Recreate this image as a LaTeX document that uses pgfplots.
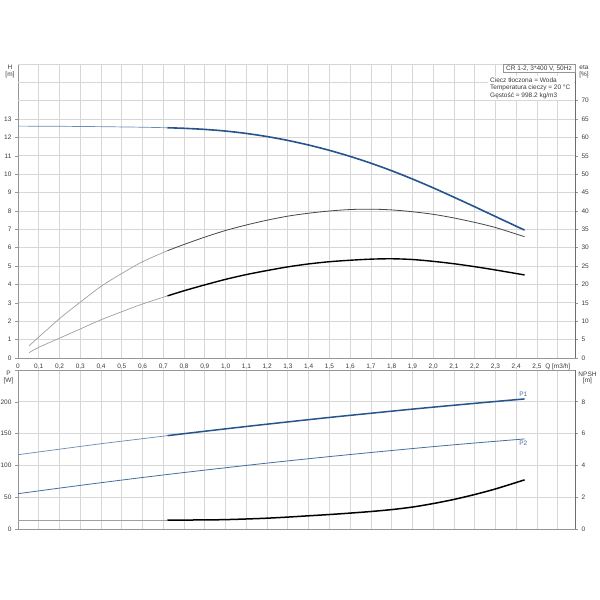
\documentclass[border=0pt]{standalone}
\usepackage{fontspec}
\setmainfont{Liberation Sans}
\usepackage{pgfplots}
\pgfplotsset{compat=1.18}
\definecolor{txt}{RGB}{60,60,60}
\definecolor{axl}{RGB}{150,150,150}
\definecolor{axr}{RGB}{110,110,110}
\definecolor{grd}{RGB}{215,215,215}
\definecolor{bthick}{RGB}{38,84,140}
\definecolor{bthin}{RGB}{105,140,180}
\definecolor{bmid}{RGB}{70,110,160}
\definecolor{gthin}{RGB}{160,160,160}
\definecolor{gdark}{RGB}{70,70,70}
\newcommand{\sm}{\fontsize{6.5}{7.5}\selectfont}
\pgfplotsset{
  base/.style={
    scale only axis, width=557pt, anchor=south west,
    xmin=0, xmax=2.683,
    axis line style={axl, line width=0.8pt},
    tick label style={font=\sm, text=txt},
    /pgf/number format/assume math mode=true,
    major tick length=3pt, tick align=outside,
    ytick style={axl, line width=0.6pt},
    xtick style={draw=none},
  },
  xg/.style={
    xtick={0,0.1,0.2,0.3,0.4,0.5,0.6,0.7,0.8,0.9,1.0,1.1,1.2,1.3,1.4,1.5,1.6,1.7,1.8,1.9,2.0,2.1,2.2,2.3,2.4,2.5,2.6},
    xmajorgrids, ymajorgrids,
    grid style={grd, line width=0.8pt},
  },
  rax/.style={
    base, axis x line=none, axis y line*=right,
    axis line style={axr, line width=0.8pt},
  },
}
\begin{document}
\begin{tikzpicture}[x=1pt,y=1pt]
\useasboundingbox (0,0) rectangle (600,600);
\fill[white] (0,0) rectangle (600,600);
% ---------------- top panel: H ----------------
\begin{axis}[base, xg, at={(18pt,242pt)}, height=294pt,
  ymin=0, ymax=16, ytick={0,1,...,13}, ytick pos=left,
  extra y ticks={14,15,16}, extra y tick labels={},
  extra y tick style={ymajorgrids, major tick length=0pt},
  xticklabels={0,{0,1},{0,2},{0,3},{0,4},{0,5},{0,6},{0,7},{0,8},{0,9},{1,0},{1,1},{1,2},{1,3},{1,4},{1,5},{1,6},{1,7},{1,8},{1,9},{2,0},{2,1},{2,2},{2,3},{2,4},{2,5},{Q [m3/h]}},
  xticklabel style={yshift=1pt},
]
\addplot[bthin, line width=0.7pt] coordinates {
 (0,12.62) (0.2,12.61) (0.4,12.59) (0.6,12.56) (0.72,12.53)};
\addplot[bthick, line width=1.6pt, smooth] coordinates {
 (0.72,12.53) (0.8,12.50) (0.9,12.44) (1.0,12.35) (1.1,12.22) (1.2,12.05)
 (1.3,11.84) (1.4,11.59) (1.5,11.30) (1.6,10.97) (1.7,10.60) (1.8,10.19)
 (1.9,9.74) (2.0,9.26) (2.1,8.75) (2.2,8.23) (2.3,7.70) (2.44,6.96)};
\end{axis}
% ---------------- top panel: eta ----------------
\begin{axis}[rax, at={(18pt,242pt)}, height=294pt,
  ymin=0, ymax=80, ytick={0,5,...,70}]
\addplot[gthin, line width=0.7pt, smooth] coordinates {
 (0.053,3.3) (0.1,5.7) (0.2,10.7) (0.3,15.2) (0.4,19.5) (0.5,23.0) (0.6,26.2) (0.72,29.2)};
\addplot[gdark, line width=0.8pt, smooth] coordinates {
 (0.72,29.2) (0.8,30.9) (0.9,32.9) (1.0,34.7) (1.1,36.2) (1.2,37.5) (1.3,38.6)
 (1.4,39.4) (1.5,40.0) (1.6,40.4) (1.7,40.5) (1.8,40.3) (1.9,39.8) (2.0,39.1)
 (2.1,38.1) (2.2,36.9) (2.3,35.5) (2.44,33.0)};
\addplot[gthin, line width=0.7pt, smooth] coordinates {
 (0.053,1.45) (0.1,2.9) (0.2,5.4) (0.3,7.9) (0.4,10.4) (0.5,12.6) (0.6,14.7) (0.72,16.9)};
\addplot[black, line width=1.4pt, smooth] coordinates {
 (0.72,16.9) (0.8,18.3) (0.9,19.9) (1.0,21.4) (1.1,22.7) (1.2,23.8) (1.3,24.8)
 (1.4,25.6) (1.5,26.2) (1.6,26.6) (1.7,26.9) (1.8,27.0) (1.9,26.8) (2.0,26.3)
 (2.1,25.65) (2.2,24.85) (2.3,23.95) (2.44,22.6)};
\end{axis}
% ---------------- bottom panel: P ----------------
\begin{axis}[base, xg, at={(18pt,71pt)}, height=159pt,
  ymin=0, ymax=250, ytick={0,50,...,250}, yticklabels={0,50,100,150,200,{}},
  ytick pos=left, xticklabels={},
]
\addplot[bthin, line width=0.7pt] coordinates {
 (0,116.8) (0.2,125.5) (0.4,134.1) (0.6,142.0) (0.72,146.8)};
\addplot[bthick, line width=1.5pt, smooth] coordinates {
 (0.72,146.8) (0.9,153.7) (1.1,161.2) (1.3,168.4) (1.5,175.4) (1.7,182.0)
 (1.9,188.5) (2.1,194.6) (2.3,200.5) (2.44,204.5)};
\addplot[bmid, line width=0.8pt, smooth] coordinates {
 (0,55.5) (0.2,64.3) (0.4,72.8) (0.6,81.0) (0.8,88.8) (1.0,96.3) (1.2,103.6)
 (1.4,110.5) (1.6,117.1) (1.8,123.4) (2.0,129.5) (2.2,135.2) (2.44,141.6)};
\node[bmid, font=\sm] at (axis cs:2.434,211.5) {P1};
\node[bmid, font=\sm] at (axis cs:2.434,134.5) {P2};
\end{axis}
% ---------------- bottom panel: NPSH ----------------
\begin{axis}[rax, at={(18pt,71pt)}, height=159pt,
  ymin=0, ymax=10, ytick={0,2,...,8}]
\addplot[gthin, line width=0.7pt] coordinates {
 (0,0.56) (0.72,0.56)};
\addplot[black, line width=1.5pt, smooth] coordinates {
 (0.72,0.56) (0.9,0.57) (1.0,0.59) (1.1,0.63) (1.2,0.68) (1.3,0.75) (1.4,0.83)
 (1.5,0.91) (1.6,1.00) (1.7,1.10) (1.8,1.22) (1.9,1.38) (2.0,1.60) (2.1,1.86)
 (2.2,2.17) (2.3,2.52) (2.44,3.09)};
\end{axis}
% ---------------- labels ----------------
\node[font=\sm, txt] at (10,533) {H};
\node[font=\sm, txt] at (10,525) {[m]};
\node[font=\sm, txt] at (584,532.5) {eta};
\node[font=\sm, txt] at (584,525) {[\%]};
\node[font=\sm, txt] at (8.5,226.5) {P};
\node[font=\sm, txt] at (8.5,219) {[W]};
\node[font=\sm, txt] at (587.5,226) {NPSH};
\node[font=\sm, txt] at (587.5,219) {[m]};
% info box
\fill[white] (488,524) rectangle (574,500);
\filldraw[fill=white, draw=axl, line width=0.6pt] (503,536) rectangle (575,527.5);
\node[font=\sm, txt] at (539,531.8) {CR 1-2, 3*400 V, 50Hz};
\node[font=\sm, txt, anchor=west, inner sep=0pt] at (490,520) {Ciecz tłoczona = Woda};
\node[font=\sm, txt, anchor=west, inner sep=0pt] at (490,511.7) {Temperatura cieczy = 20 °C};
\node[font=\sm, txt, anchor=west, inner sep=0pt] at (490,504.3) {Gęstość = 998.2 kg/m3};
\end{tikzpicture}
\end{document}
